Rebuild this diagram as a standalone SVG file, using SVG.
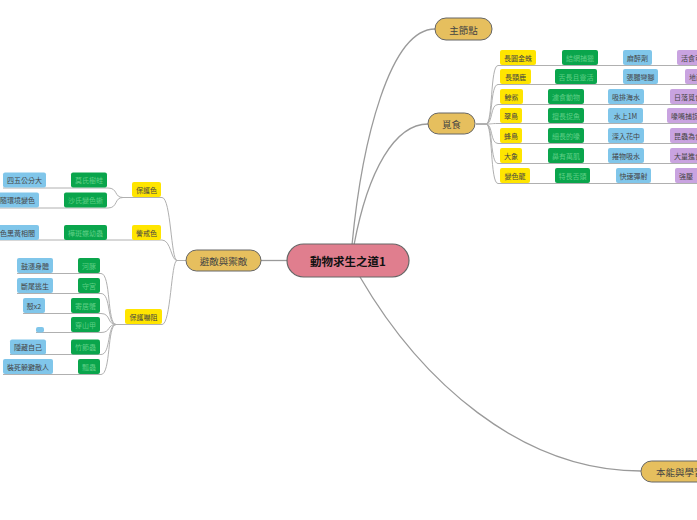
<svg xmlns="http://www.w3.org/2000/svg" width="697" height="520" viewBox="0 0 697 520">
<style>
text{font-family:"Noto Sans CJK TC","Noto Sans CJK SC",sans-serif;text-anchor:middle;dominant-baseline:central}
.c{fill:none;stroke:#b0b0b0;stroke-width:1}
.m{fill:none;stroke:#9a9a9a;stroke-width:1.3}
.y rect{fill:#ffe500}.y text{fill:#444;font-size:7px}
.g rect{fill:#0aa54c}.g text{fill:#5fcf86;font-size:7px}
.b rect{fill:#80c6ea}.b text{fill:#444;font-size:7px}
.p rect{fill:#c9a3e0}.p text{fill:#444;font-size:7px;text-anchor:start}
.t rect{fill:#e6bf5e;stroke:#666;stroke-width:1}.t text{fill:#444;font-size:9.5px}
</style>
<rect width="697" height="520" fill="#fff"/>
<g id="connectors">
<path class="m" d="M287,260.5 H261"/>
<path class="m" d="M352,245 C362,140 390,29 435,29"/>
<path class="m" d="M354,245 C368,170 395,124 428,124"/>
<path class="m" d="M360,277 C420,380 520,471 641,471"/>
<path class="c" d="M476,124 H486 C493,124 490,65.5 498,65.5 H697"/>
<path class="c" d="M476,124 H486 C493,124 490,84.5 498,84.5 H697"/>
<path class="c" d="M476,124 H486 C493,124 490,104.5 498,104.5 H697"/>
<path class="c" d="M476,124 H486 C493,124 490,123.5 498,123.5 H697"/>
<path class="c" d="M476,124 H486 C493,124 490,143.5 498,143.5 H697"/>
<path class="c" d="M476,124 H486 C493,124 490,163.5 498,163.5 H697"/>
<path class="c" d="M476,124 H486 C493,124 490,183.5 498,183.5 H697"/>
<path class="c" d="M186,260.5 H177 C171,260.5 171,197.5 162,197.5 H123"/>
<path class="c" d="M186,260.5 H177 C171,260.5 171,240 162,240 H-5"/>
<path class="c" d="M186,260.5 H177 C171,260.5 171,324.5 162,324.5 H116"/>
<path class="c" d="M123,197.5 C114,197.5 118,188 108,188 H3"/>
<path class="c" d="M123,197.5 C114,197.5 118,208 108,208 H-5"/>
<path class="c" d="M116,324.5 C107,324.5 111,273.5 101,273.5 H17"/>
<path class="c" d="M116,324.5 C107,324.5 111,293.5 101,293.5 H17"/>
<path class="c" d="M116,324.5 C107,324.5 111,313.5 101,313.5 H23"/>
<path class="c" d="M116,324.5 C107,324.5 111,332.5 101,332.5 H36"/>
<path class="c" d="M116,324.5 C107,324.5 111,354.5 101,354.5 H10"/>
<path class="c" d="M116,324.5 C107,324.5 111,374.5 101,374.5 H3"/>
</g>
<g id="center"><rect x="287" y="244" width="122" height="33" rx="16.5" fill="#e07e8e" stroke="#666" stroke-width="1.2"/><text x="348" y="261" style="font-size:11.5px;font-weight:bold;fill:#111">動物求生之道1</text></g>
<g id="n-main" class="t"><rect x="435" y="18" width="57" height="22" rx="11"/><text x="463.5" y="29.5">主節點</text></g>
<g id="n-food" class="t"><rect x="428" y="113" width="47" height="21" rx="10.5"/><text x="451.5" y="124">覓食</text></g>
<g id="n-avoid" class="t"><rect x="186" y="250" width="75" height="21" rx="10.5"/><text x="223.5" y="260.5">避敵與禦敵</text></g>
<g id="n-instinct" class="t"><rect x="641" y="461" width="100" height="21" rx="10.5"/><text x="656" y="471.5" style="text-anchor:start">本能與學習</text></g>

<g id="r1">
<g class="y"><rect x="500" y="50" width="36" height="15" rx="2"/><text x="518" y="57.5">長圓金蛛</text></g>
<g class="g"><rect x="562" y="50" width="36" height="15" rx="2"/><text x="580" y="57.5">結網捕獵</text></g>
<g class="b"><rect x="623" y="50" width="29" height="15" rx="2"/><text x="637.5" y="57.5">麻醉劑</text></g>
<g class="p"><rect x="677" y="50" width="40" height="15" rx="2"/><text x="681" y="57.5">活食可</text></g>
</g>
<g id="r2">
<g class="y"><rect x="500" y="69" width="31" height="15" rx="2"/><text x="515.5" y="76.5">長頸鹿</text></g>
<g class="g"><rect x="555" y="69" width="42" height="15" rx="2"/><text x="576" y="76.5">舌長且靈活</text></g>
<g class="b"><rect x="623" y="69" width="35" height="15" rx="2"/><text x="640.5" y="76.5">張腿彎腳</text></g>
<g class="p"><rect x="685" y="69" width="40" height="15" rx="2"/><text x="689" y="76.5">地面</text></g>
</g>
<g id="r3">
<g class="y"><rect x="500" y="89" width="23" height="15" rx="2"/><text x="511.5" y="96.5">鯨鯊</text></g>
<g class="g"><rect x="548" y="89" width="36" height="15" rx="2"/><text x="566" y="96.5">濾食動物</text></g>
<g class="b"><rect x="608" y="89" width="36" height="15" rx="2"/><text x="626" y="96.5">吸排海水</text></g>
<g class="p"><rect x="670" y="89" width="40" height="15" rx="2"/><text x="674" y="96.5">日落覓食</text></g>
</g>
<g id="r4">
<g class="y"><rect x="500" y="108" width="22" height="15" rx="2"/><text x="511" y="115.5">翠鳥</text></g>
<g class="g"><rect x="548" y="108" width="36" height="15" rx="2"/><text x="566" y="115.5">擅長捉魚</text></g>
<g class="b"><rect x="608" y="108" width="35" height="15" rx="2"/><text x="625.5" y="115.5">水上1M</text></g>
<g class="p"><rect x="667" y="108" width="40" height="15" rx="2"/><text x="671" y="115.5">喙嘴捕捉</text></g>
</g>
<g id="r5">
<g class="y"><rect x="500" y="128" width="22" height="15" rx="2"/><text x="511" y="135.5">蜂鳥</text></g>
<g class="g"><rect x="548" y="128" width="36" height="15" rx="2"/><text x="566" y="135.5">細長的喙</text></g>
<g class="b"><rect x="608" y="128" width="36" height="15" rx="2"/><text x="626" y="135.5">深入花中</text></g>
<g class="p"><rect x="670" y="128" width="40" height="15" rx="2"/><text x="674" y="135.5">昆蟲為食</text></g>
</g>
<g id="r6">
<g class="y"><rect x="500" y="148" width="22" height="15" rx="2"/><text x="511" y="155.5">大象</text></g>
<g class="g"><rect x="548" y="148" width="36" height="15" rx="2"/><text x="566" y="155.5">鼻有萬肌</text></g>
<g class="b"><rect x="608" y="148" width="36" height="15" rx="2"/><text x="626" y="155.5">捲物吸水</text></g>
<g class="p"><rect x="670" y="148" width="40" height="15" rx="2"/><text x="674" y="155.5">大量進食</text></g>
</g>
<g id="r7">
<g class="y"><rect x="500" y="168" width="30" height="15" rx="2"/><text x="515" y="175.5">變色龍</text></g>
<g class="g"><rect x="555" y="168" width="35" height="15" rx="2"/><text x="572.5" y="175.5">特長舌頭</text></g>
<g class="b"><rect x="616" y="168" width="35" height="15" rx="2"/><text x="633.5" y="175.5">快速彈射</text></g>
<g class="p"><rect x="675" y="168" width="40" height="15" rx="2"/><text x="679" y="175.5">強壓</text></g>
</g>

<g id="n-camo" class="y"><rect x="132" y="182" width="29" height="15" rx="2"/><text x="146.5" y="189.5">保護色</text></g>
<g id="n-warn" class="y"><rect x="132" y="225" width="29" height="15" rx="2"/><text x="146.5" y="232.5">警戒色</text></g>
<g id="n-deter" class="y"><rect x="125" y="309" width="37" height="15" rx="2"/><text x="143.5" y="316.5">保護嚇阻</text></g>

<g id="l1"><g class="b"><rect x="3" y="172.5" width="43" height="15" rx="2"/><text x="24.5" y="180">四五公分大</text></g><g class="g"><rect x="71" y="172.5" width="36" height="15" rx="2"/><text x="89" y="180">莫氏樹蛙</text></g></g>
<g id="l2"><g class="b"><rect x="-4" y="192.5" width="43" height="15" rx="2"/><text x="17.5" y="200">隨環境變色</text></g><g class="g"><rect x="64" y="192.5" width="43" height="15" rx="2"/><text x="85.5" y="200">沙氏變色蜥</text></g></g>
<g id="l3"><g class="b"><rect x="-4" y="225" width="43" height="15" rx="2"/><text x="17.5" y="232.5">色黑黃相間</text></g><g class="g"><rect x="64" y="225" width="43" height="15" rx="2"/><text x="85.5" y="232.5">樺斑蝶幼蟲</text></g></g>
<g id="l4"><g class="b"><rect x="17" y="258" width="36" height="15" rx="2"/><text x="35" y="265.5">鼓漲身體</text></g><g class="g"><rect x="78" y="258" width="22" height="15" rx="2"/><text x="89" y="265.5">河豚</text></g></g>
<g id="l5"><g class="b"><rect x="17" y="278" width="36" height="15" rx="2"/><text x="35" y="285.5">斷尾逃生</text></g><g class="g"><rect x="78" y="278" width="22" height="15" rx="2"/><text x="89" y="285.5">守宮</text></g></g>
<g id="l6"><g class="b"><rect x="23" y="298" width="22" height="15" rx="2"/><text x="34" y="305.5">殼x2</text></g><g class="g"><rect x="71" y="298" width="29" height="15" rx="2"/><text x="85.5" y="305.5">寄居蟹</text></g></g>
<g id="l7"><g class="b"><rect x="36" y="327" width="8" height="5.5" rx="2"/></g><g class="g"><rect x="71" y="317" width="29" height="15" rx="2"/><text x="85.5" y="324.5">穿山甲</text></g></g>
<g id="l8"><g class="b"><rect x="10" y="339.5" width="36" height="15" rx="2"/><text x="28" y="347">隱藏自己</text></g><g class="g"><rect x="71" y="339.5" width="29" height="15" rx="2"/><text x="85.5" y="347">竹節蟲</text></g></g>
<g id="l9"><g class="b"><rect x="3" y="359" width="50" height="15" rx="2"/><text x="28" y="366.5">裝死躲避敵人</text></g><g class="g"><rect x="78" y="359" width="22" height="15" rx="2"/><text x="89" y="366.5">瓢蟲</text></g></g>
</svg>
